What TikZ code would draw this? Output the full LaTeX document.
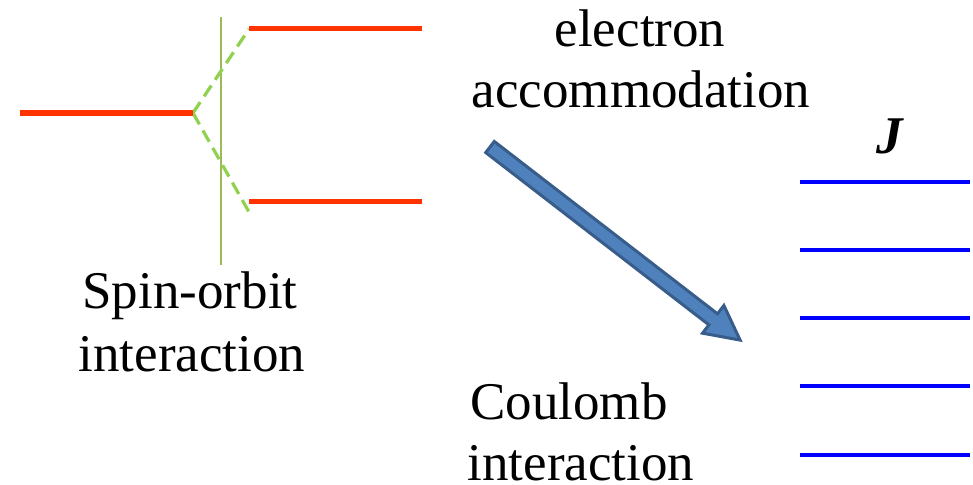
\documentclass[tikz,border=0pt]{standalone}
\usepackage{fontspec}
\setmainfont{Liberation Serif}
\definecolor{lvlred}{HTML}{FF3300}
\definecolor{lvlblue}{HTML}{0000FF}
\definecolor{vgreen}{HTML}{9BBB59}
\definecolor{dgreen}{HTML}{92D050}
\definecolor{arrfill}{HTML}{4F81BD}
\definecolor{arrdraw}{HTML}{385D8A}
\tikzset{
  redlevel/.style={draw=lvlred,line width=5pt},
  bluelevel/.style={draw=lvlblue,line width=4.5pt},
  dashlink/.style={draw=dgreen,line width=3.2pt,dash pattern=on 13pt off 7pt},
  lbl/.style={inner sep=0pt,anchor=base,font=\fontsize{53}{60}\selectfont}
}
\begin{document}
\begin{tikzpicture}[x=1pt,y=-1pt]
\useasboundingbox (0,0) rectangle (973,484);
% left level and split levels
\coordinate (l0a) at (20,113);
\coordinate (l0b) at (193,113);
\coordinate (lua) at (249,29);
\coordinate (lub) at (422,29);
\coordinate (lla) at (249,201);
\coordinate (llb) at (422,201);
\coordinate (lld) at (249,212);
\coordinate (vt) at (221,17);
\coordinate (vb) at (221,265);
\draw[vgreen,line width=1.6pt] (vt) -- (vb);
\draw[dashlink] (l0b) -- (lua);
\draw[dashlink] (l0b) -- (lld);
\draw[redlevel] (l0a) -- (l0b);
\draw[redlevel] (lua) -- (lub);
\draw[redlevel] (lla) -- (llb);
% blue J levels
\foreach \i/\y in {1/182,2/250,3/318,4/386,5/455}{
  \coordinate (ja\i) at (800,\y);
  \coordinate (jb\i) at (970,\y);
  \draw[bluelevel] (ja\i) -- (jb\i);
}
% block arrow
\begin{scope}[shift={(490,147)},rotate=-37.67]
\draw[fill=arrfill,draw=arrdraw,line width=3pt,line join=miter]
  (0,7) -- (282,7) -- (282,17.5) -- (316,0) -- (282,-17.5) -- (282,-7) -- (0,-7) -- cycle;
\end{scope}
% labels
\node[lbl] (t1) at (640,47) {electron};
\node[lbl] (t2) at (641,107) {accommodation};
\node[lbl] (t3) at (190,308) {Spin-orbit};
\node[lbl] (t4) at (192,371) {interaction};
\node[lbl] (t5) at (569,419) {Coulomb};
\node[lbl] (t6) at (581,480) {interaction};
\node[lbl] (tj) at (890,153) {\textbf{\textit{J}}};
\end{tikzpicture}
\end{document}
